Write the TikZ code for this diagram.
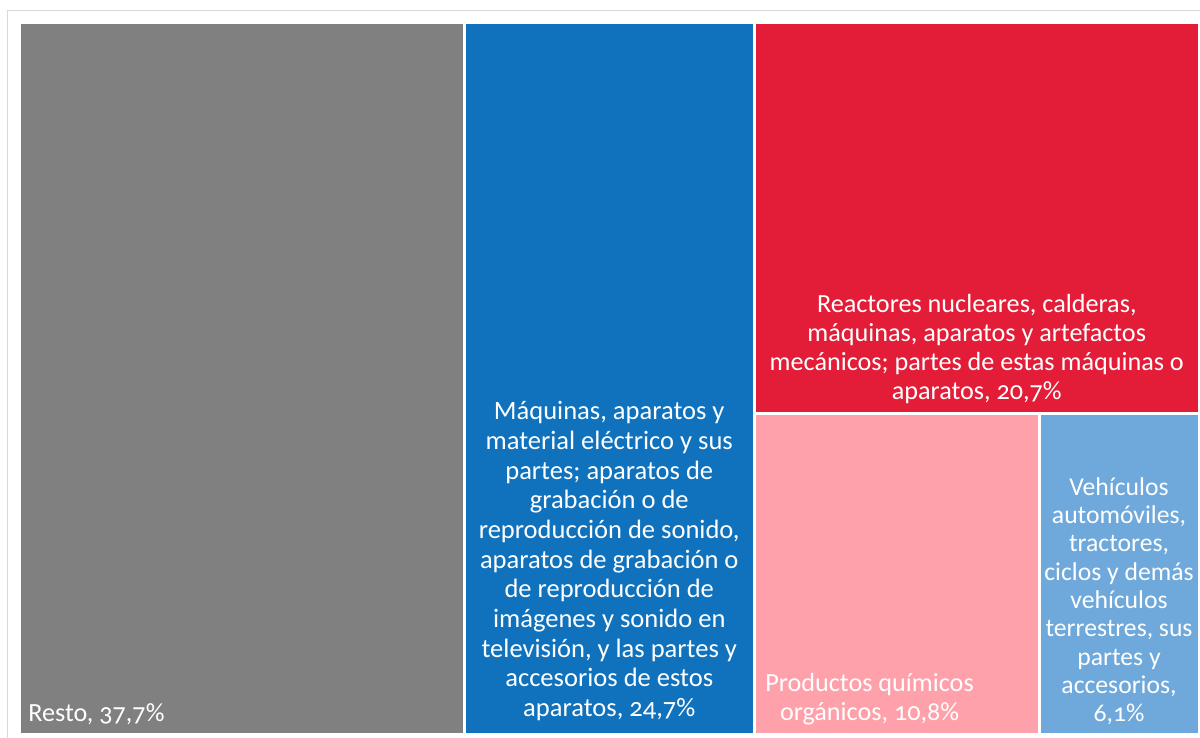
\documentclass[tikz,border=0pt]{standalone}
\usepackage{fontspec}
\setmainfont{Carlito}[Numbers=OldStyle]
\usepackage{xcolor}
\usetikzlibrary{positioning,calc}
\definecolor{restogray}{RGB}{128,128,128}
\definecolor{electblue}{RGB}{16,114,189}
\definecolor{reactred}{RGB}{227,29,56}
\definecolor{quimpink}{RGB}{255,161,171}
\definecolor{vehiblue}{RGB}{111,169,219}
\definecolor{framegray}{RGB}{217,217,217}

\begin{document}
\begin{tikzpicture}[
    tile/.style={rectangle, inner sep=0pt, outer sep=0pt, draw=none},
    tilelabel/.style={text=white, align=center, inner sep=0pt, font=\fontsize{14.9}{16.6}\selectfont}]
    \useasboundingbox (0,0) rectangle (24,14.76);

    % Frame
    \draw[framegray, line width=0.6pt] (0.15,0) -- (0.15,14.55) -- (24,14.55);

    % Tiles
    \node[tile, fill=restogray, minimum width=8.83cm, minimum height=14.186cm] (resto) at (4.835, 7.187) {};
    \node[tile, fill=electblue, minimum width=5.75cm, minimum height=14.186cm] (elect) at (12.185, 7.187) {};
    \node[tile, fill=reactred, minimum width=8.83cm, minimum height=7.766cm] (react) at (19.535, 10.397) {};
    \node[tile, fill=quimpink, minimum width=5.63cm, minimum height=6.366cm] (quim) at (17.935, 3.277) {};
    \node[tile, fill=vehiblue, minimum width=3.14cm, minimum height=6.366cm] (vehi) at (22.38, 3.277) {};

    % Labels
    \node[tilelabel, anchor=south west] (restolbl) at ([shift={(0.14,0.16)}]resto.south west) {Resto, 37,7\%};
    \node[tilelabel, anchor=south, font=\fontsize{15.1}{16.9}\selectfont] (electlbl) at ([yshift=0.24cm]elect.south) {M\'aquinas, aparatos y\\material el\'ectrico y sus\\partes; aparatos de\\grabaci\'on o de\\reproducci\'on de sonido,\\aparatos de grabaci\'on o\\de reproducci\'on de\\im\'agenes y sonido en\\televisi\'on, y las partes y\\accesorios de estos\\aparatos, 24,7\%};
    \node[tilelabel, anchor=south] (reactlbl) at ([yshift=0.16cm]react.south) {Reactores nucleares, calderas,\\m\'aquinas, aparatos y artefactos\\mec\'anicos; partes de estas m\'aquinas o\\aparatos, 20,7\%};
    \node[tilelabel, anchor=south west] (quimlbl) at ([shift={(0.18,0.16)}]quim.south west) {Productos qu\'imicos\\org\'anicos, 10,8\%};
    \node[tilelabel, anchor=south, font=\fontsize{14.6}{16.1}\selectfont] (vehilbl) at ([yshift=0.16cm]vehi.south) {Veh\'iculos\\autom\'oviles,\\tractores,\\ciclos y dem\'as\\veh\'iculos\\terrestres, sus\\partes y\\accesorios,\\6,1\%};

\end{tikzpicture}
\end{document}
